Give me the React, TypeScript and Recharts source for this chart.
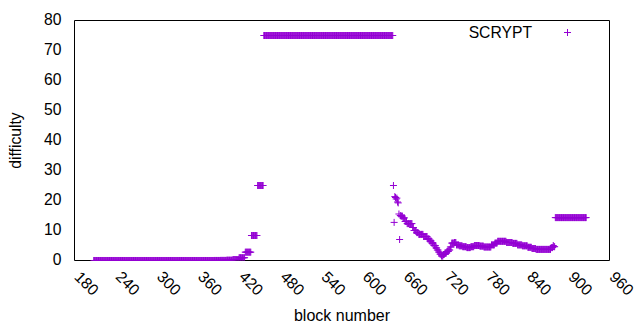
import React from 'react';
import { ScatterChart, Scatter, XAxis, YAxis, Legend } from 'recharts';

// [first block, last block, difficulty]
const rampRuns: [number, number, number][] = [
  [208, 383, 0.001],
  [384, 392, 0.0114],
  [393, 401, 0.0343],
  [402, 410, 0.103],
  [411, 419, 0.309],
  [420, 428, 0.926],
  [429, 437, 2.78],
  [438, 446, 8.33],
  [447, 455, 25],
  [456, 644, 75],
];

const recoveryRuns: [number, number, number][] = [
  [645, 645, 25],
  [646, 646, 12.7],
  [647, 647, 21.3],
  [648, 648, 21],
  [649, 649, 20.5],
  [650, 650, 20.8],
  [651, 651, 19.5],
  [652, 652, 19.2],
  [653, 653, 15.5],
  [654, 654, 7.0],
  [655, 655, 15],
  [656, 658, 14.8],
  [659, 661, 14.2],
  [662, 664, 13.0],
  [665, 672, 12.3],
  [673, 674, 11],
  [675, 678, 10],
  [679, 681, 9.3],
  [682, 688, 8.7],
  [689, 694, 8.0],
  [695, 697, 7.2],
  [698, 700, 6.5],
  [701, 703, 5.8],
  [704, 706, 5.0],
  [707, 708, 4.2],
  [709, 710, 3.5],
  [711, 712, 2.8],
  [713, 714, 2.1],
  [715, 717, 1.5],
  [718, 719, 2.0],
  [720, 722, 2.5],
  [723, 725, 3.0],
  [726, 727, 3.5],
  [728, 729, 4.5],
  [730, 733, 5.8],
  [734, 736, 6.0],
  [737, 740, 5.2],
  [741, 745, 4.9],
  [746, 751, 4.6],
  [752, 757, 4.3],
  [758, 762, 4.6],
  [763, 770, 5.0],
  [771, 776, 4.8],
  [777, 787, 4.5],
  [788, 792, 5.2],
  [793, 796, 5.8],
  [797, 809, 6.4],
  [810, 818, 6.0],
  [819, 825, 5.7],
  [826, 832, 5.2],
  [833, 840, 4.9],
  [841, 846, 4.4],
  [847, 852, 4.0],
  [853, 874, 3.7],
  [875, 877, 4.3],
  [878, 878, 5.0],
  [879, 880, 4.6],
];

const tailRuns: [number, number, number][] = [
  [881, 926, 14.3],
];

const xTicks = [180, 240, 300, 360, 420, 480, 540, 600, 660, 720, 780, 840, 900, 960];
const yTicks = [0, 10, 20, 30, 40, 50, 60, 70, 80];
const seriesName = 'SCRYPT';
const xTitle = 'block number';
const yTitle = 'difficulty';

function expandRuns(runs: [number, number, number][]) {
  const out: { block: number; difficulty: number }[] = [];
  for (const [a, b, v] of runs) {
    for (let k = a; k <= b; k++) out.push({ block: k, difficulty: v });
  }
  return out;
}

const data = [...expandRuns(rampRuns), ...expandRuns(recoveryRuns), ...expandRuns(tailRuns)];

const COLOR = '#9400d3';
const FONT = '"Liberation Sans", Arial, sans-serif';
const FS = 15.7;

const Plus = (props: any) => {
  const { cx, cy } = props;
  if (cx == null || cy == null) return null;
  return (
    <g>
      <line x1={cx - 3.5} x2={cx + 3.5} y1={cy} y2={cy} stroke={COLOR} strokeWidth={1} />
      <line x1={cx} x2={cx} y1={cy - 3.5} y2={cy + 3.5} stroke={COLOR} strokeWidth={1} />
    </g>
  );
};

const XTick = (props: any) => {
  const { x, payload } = props;
  const ax = x + 3;
  const ay = 274;
  return (
    <text
      x={ax}
      y={ay}
      dy="0.35em"
      transform={`rotate(45 ${ax} ${ay})`}
      textAnchor="start"
      fontSize={FS}
      fontFamily={FONT}
      fill="#000"
    >
      {payload.value}
    </text>
  );
};

const YTick = (props: any) => {
  const { y, payload } = props;
  return (
    <text x={61.5} y={y - 1} dy="0.35em" textAnchor="end" fontSize={FS} fontFamily={FONT} fill="#000">
      {payload.value}
    </text>
  );
};

const XTitle = (props: any) => {
  const vb = props.viewBox || {};
  const cx = vb.x + vb.width / 2;
  return (
    <text x={cx} y={321} textAnchor="middle" fontSize={16} fontFamily={FONT} fill="#000">
      {xTitle}
    </text>
  );
};

const YTitle = (props: any) => {
  const vb = props.viewBox || {};
  const cy = vb.y + vb.height / 2;
  const cx = 20.5;
  return (
    <text
      x={cx}
      y={cy}
      transform={`rotate(-90 ${cx} ${cy})`}
      textAnchor="middle"
      fontSize={FS}
      fontFamily={FONT}
      fill="#000"
    >
      {yTitle}
    </text>
  );
};

const LegendContent = () => (
  <svg width={160} height={26} style={{ display: 'block', overflow: 'visible' }}>
    <text x={102} y={17.5} textAnchor="end" fontSize={FS} fontFamily={FONT} fill="#000">
      {seriesName}
    </text>
    <line x1={134} x2={141} y1={12.5} y2={12.5} stroke={COLOR} strokeWidth={1} />
    <line x1={137.5} x2={137.5} y1={9} y2={16} stroke={COLOR} strokeWidth={1} />
  </svg>
);

export default function App() {
  const axisStroke = { stroke: '#000', strokeWidth: 1 };
  return (
    <div style={{ width: 640, height: 330, background: '#fff' }}>
      <style>{'body{margin:0;background:#fff}'}</style>
      <ScatterChart
        width={640}
        height={330}
        margin={{ top: 20.5, right: 30.5, bottom: 39.5, left: 14.5 }}
      >
        <XAxis
          xAxisId="b"
          dataKey="block"
          type="number"
          domain={[180, 960]}
          ticks={xTicks}
          interval={0}
          allowDataOverflow
          orientation="bottom"
          height={30}
          tickLine={false}
          axisLine={false}
          tick={<XTick />}
          label={{ content: <XTitle /> }}
        />
        <XAxis
          xAxisId="bm"
          type="number"
          domain={[180, 960]}
          ticks={xTicks}
          interval={0}
          allowDataOverflow
          orientation="bottom"
          mirror
          tick={false}
          tickSize={4}
          tickLine={axisStroke}
          axisLine={axisStroke}
        />
        <XAxis
          xAxisId="tm"
          type="number"
          domain={[180, 960]}
          ticks={xTicks}
          interval={0}
          allowDataOverflow
          orientation="top"
          mirror
          tick={false}
          tickSize={4}
          tickLine={axisStroke}
          axisLine={axisStroke}
        />
        <YAxis
          yAxisId="l"
          dataKey="difficulty"
          type="number"
          domain={[0, 80]}
          ticks={yTicks}
          interval={0}
          allowDataOverflow
          width={60}
          tickLine={false}
          axisLine={false}
          tick={<YTick />}
          label={{ content: <YTitle /> }}
        />
        <YAxis
          yAxisId="lm"
          type="number"
          domain={[0, 80]}
          ticks={yTicks}
          interval={0}
          allowDataOverflow
          orientation="left"
          mirror
          tick={false}
          tickSize={4}
          tickLine={axisStroke}
          axisLine={axisStroke}
        />
        <YAxis
          yAxisId="rm"
          type="number"
          domain={[0, 80]}
          ticks={yTicks}
          interval={0}
          allowDataOverflow
          orientation="right"
          mirror
          tick={false}
          tickSize={4}
          tickLine={axisStroke}
          axisLine={axisStroke}
        />
        <Legend
          layout="horizontal"
          verticalAlign="middle"
          align="center"
          content={<LegendContent />}
          wrapperStyle={{ position: 'absolute', left: 430, top: 20, width: 160, height: 26 }}
        />
        <Scatter
          name={seriesName}
          xAxisId="b"
          yAxisId="l"
          data={data}
          fill={COLOR}
          shape={<Plus />}
          isAnimationActive={false}
        />
      </ScatterChart>
    </div>
  );
}
